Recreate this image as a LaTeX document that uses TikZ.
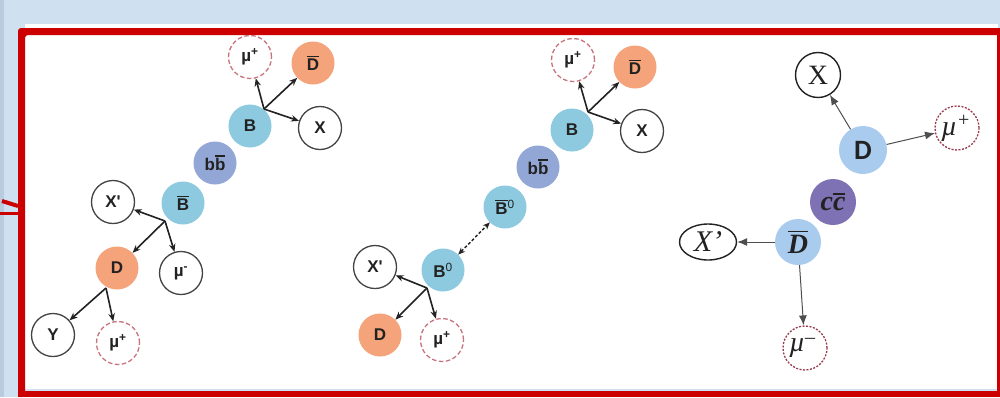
\documentclass[tikz,border=0pt]{standalone}
\usepackage{fontspec}
\setmainfont{Liberation Serif}
\newfontfamily\labsans{Liberation Sans}
\newfontfamily\calsans{Carlito}
\usetikzlibrary{arrows.meta,shapes.geometric}

\definecolor{bgblue}{HTML}{CFE0F1}
\definecolor{bgedge}{HTML}{B9CCDF}
\definecolor{framered}{HTML}{CC0000}
\definecolor{mesonB}{HTML}{8DCAE0}
\definecolor{pairbb}{HTML}{93A7D6}
\definecolor{mesonD}{HTML}{F5A37A}
\definecolor{mesonDc}{HTML}{A9CCEE}
\definecolor{paircc}{HTML}{7E72B4}
\definecolor{muonA}{HTML}{C8747E}
\definecolor{muonB}{HTML}{9A3A4A}
\definecolor{ink}{HTML}{222222}

% bar over a piece of text
\newsavebox\ovlbox
\newcommand\ovl[2][1.5pt]{\sbox\ovlbox{#2}\rlap{\raisebox{\dimexpr\ht\ovlbox+#1\relax}{\rule{\wd\ovlbox}{1.3pt}}}\usebox\ovlbox}

\tikzset{
  part/.style={circle, minimum size=43pt, inner sep=0pt,
    font=\labsans\bfseries\fontsize{17}{17}\selectfont, text=ink},
  bmes/.style={part, fill=mesonB},
  dmes/.style={part, fill=mesonD},
  bbpair/.style={part, fill=pairbb},
  openp/.style={part, draw=ink!85, line width=1.3pt, fill=white},
  muonp/.style={part, draw=muonA, line width=1.3pt, dash pattern=on 4.5pt off 2.5pt, fill=white},
  dec/.style={-{Stealth[length=8pt,width=6.5pt]}, line width=1.6pt, draw=ink},
  osc/.style={{Stealth[length=7pt,width=6pt]}-{Stealth[length=7pt,width=6pt]}, line width=1.4pt, draw=ink, dash pattern=on 3pt off 2pt},
  rpart/.style={circle, inner sep=0pt, text=ink, font=\fontsize{28}{28}\selectfont},
  ropen/.style={rpart, minimum size=45pt, draw=ink, line width=1.4pt, fill=white},
  rmuon/.style={rpart, minimum size=44pt, draw=muonB, line width=1.3pt, dash pattern=on 2pt off 1.5pt, fill=white},
  rdec/.style={-{Latex[length=10pt,width=8pt]}, line width=1pt, draw=ink!80},
}

\begin{document}
\begin{tikzpicture}[x=1pt, y=-1pt]
  \useasboundingbox (0,0) rectangle (1000,397);

  % page background and frame
  \fill[bgblue] (0,0) rectangle (1000,397);
  \fill[bgedge] (0,0) rectangle (4,397);
  \fill[white] (25,24) rectangle (998,389);
  \fill[framered, rounded corners=3pt] (18,397) -- (18,28) -- (1003,28) -- (1003,35) -- (25,35) -- (25,397) -- cycle;
  \fill[framered] (18,391) rectangle (1000,397);
  \fill[framered] (997,28) rectangle (1000,397);
  \fill[framered] (0,212) rectangle (18,215);
  \draw[framered, line width=4pt] (2,201) -- (18,206);

  % ---- B Bbar pair with D -> mu
  \node[muonp] (muA)  at (250,57)  {\textmu\textsuperscript{+}};
  \node[dmes]  (DbA)  at (313,63)  {\ovl{D}};
  \node[bmes]  (BA)   at (250,126) {B};
  \node[openp] (XA)   at (320,128) {X};
  \node[bbpair](bbA)  at (215,163) {b\ovl{b}};
  \node[bmes]  (BbA)  at (183,203) {\ovl{B}};
  \node[openp] (XpA)  at (113,202) {X'};
  \node[dmes]  (DA)   at (117,268) {D};
  \node[openp] (mumA) at (181,273) {\textmu\textsuperscript{-}};
  \node[openp] (YA)   at (53,335)  {Y};
  \node[muonp] (mupA) at (118,343) {\textmu\textsuperscript{+}};

  \coordinate (brA1) at (264,109);
  \coordinate (brA2) at (165,221);
  \coordinate (brA3) at (106,288);
  \draw[dec] (brA1) -- (muA);
  \draw[dec] (brA1) -- (DbA);
  \draw[dec] (brA1) -- (XA);
  \draw[dec] (brA2) -- (XpA);
  \draw[dec] (brA2) -- (DA);
  \draw[dec] (brA2) -- (mumA);
  \draw[dec] (brA3) -- (YA);
  \draw[dec] (brA3) -- (mupA);

  % ---- B0 oscillation
  \node[muonp] (muB)  at (573,60)  {\textmu\textsuperscript{+}};
  \node[dmes]  (DbB)  at (635,67)  {\ovl{D}};
  \node[bmes]  (BB)   at (572,130) {B};
  \node[openp] (XB)   at (642,131) {X};
  \node[bbpair](bbB)  at (538,167) {b\ovl{b}};
  \node[bmes]  (Bb0)  at (505,207) {\ovl{B}\textsuperscript{\mdseries 0}};
  \node[bmes]  (B0)   at (443,270) {B\textsuperscript{\mdseries 0}};
  \node[openp] (XpB)  at (375,267) {X'};
  \node[dmes]  (DB)   at (380,335) {D};
  \node[muonp] (mupB) at (442,340) {\textmu\textsuperscript{+}};

  \coordinate (brB1) at (588,112);
  \coordinate (brB2) at (427,288);
  \draw[dec] (brB1) -- (muB);
  \draw[dec] (brB1) -- (DbB);
  \draw[dec] (brB1) -- (XB);
  \draw[osc] (B0) -- (Bb0);
  \draw[dec] (brB2) -- (XpB);
  \draw[dec] (brB2) -- (DB);
  \draw[dec] (brB2) -- (mupB);

  % ---- c cbar pair
  \node[ropen] (XC)   at (818,75)  {X};
  \node[rpart, minimum size=48pt, fill=mesonDc, font=\calsans\bfseries\fontsize{28}{28}\selectfont] (DC) at (863,150) {D};
  \node[rmuon] (muC)  at (957,128) {\textit{\textmu}\rlap{\kern1pt\raisebox{9pt}{\fontsize{20}{20}\selectfont+}}\hphantom{+}};
  \node[rpart, minimum size=46pt, fill=paircc, font=\bfseries\itshape\fontsize{28}{28}\selectfont] (ccC) at (833,202) {c\ovl[2.5pt]{c}};
  \node[rpart, minimum size=46pt, fill=mesonDc, font=\bfseries\itshape\fontsize{28}{28}\selectfont] (DbC) at (798,242) {\ovl[2.5pt]{D}};
  \node[ellipse, draw=ink, line width=1.4pt, fill=white, minimum width=57pt, minimum height=36pt, inner sep=0pt, text=ink, font=\itshape\fontsize{30}{30}\selectfont] (XpC) at (708,242) {X'};
  \node[rmuon] (mumC) at (805,348) {\textit{\textmu}\rlap{\raisebox{8pt}{\fontsize{20}{20}\selectfont\textendash}}\hphantom{+}};

  \draw[rdec] (DC) -- (XC);
  \draw[rdec] (DC) -- (muC);
  \draw[rdec] (DbC) -- (XpC);
  \draw[rdec] (DbC) -- (mumC);
\end{tikzpicture}
\end{document}
